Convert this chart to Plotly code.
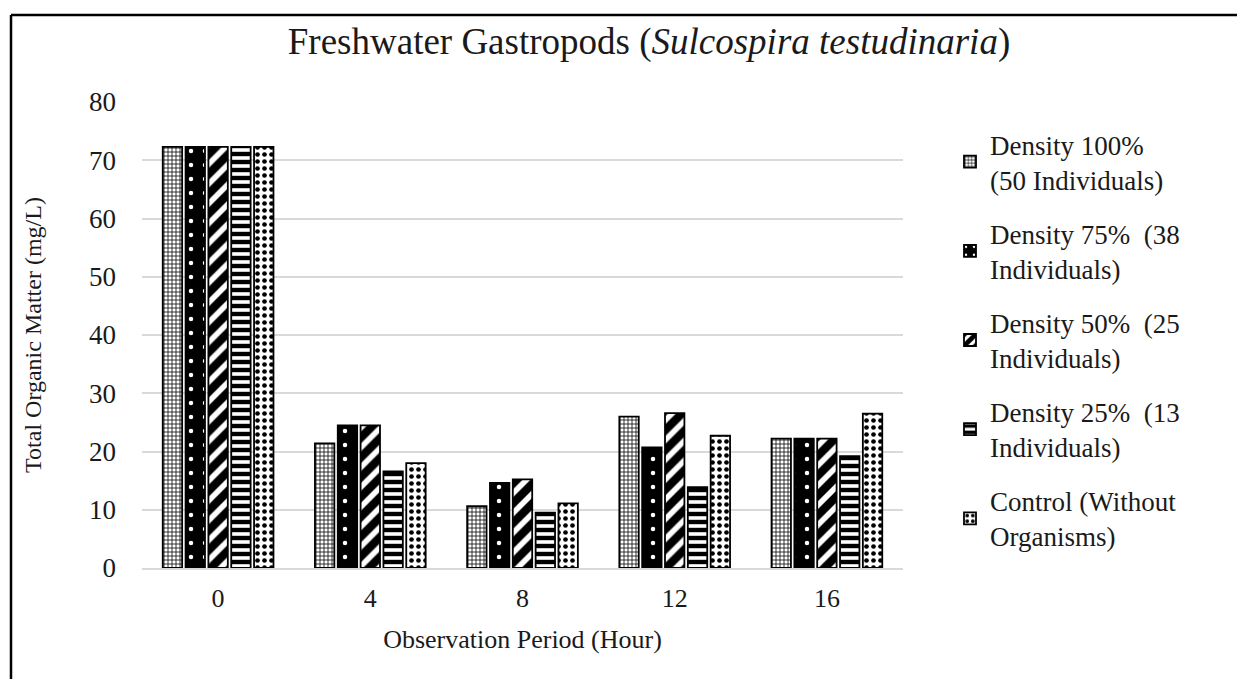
import plotly.graph_objects as go

hours = ["0", "4", "8", "12", "16"]
series_names = [
    "Density 100%<br>(50 Individuals)",
    "Density 75%  (38<br>Individuals)",
    "Density 50%  (25<br>Individuals)",
    "Density 25%  (13<br>Individuals)",
    "Control (Without<br>Organisms)",
]
density_100 = [72.3, 21.4, 10.6, 26.0, 22.2]
density_75 = [72.3, 24.5, 14.6, 20.7, 22.2]
density_50 = [72.3, 24.5, 15.2, 26.6, 22.2]
density_25 = [72.3, 16.6, 9.5, 13.9, 19.2]
control = [72.3, 18.0, 11.1, 22.7, 26.5]
y_ticks = [0, 10, 20, 30, 40, 50, 60, 70, 80]

values = [density_100, density_75, density_50, density_25, control]
patterns = [
    dict(shape="+", fgcolor="black", bgcolor="white", size=4, solidity=0.35, fgopacity=1),
    dict(shape=".", fgcolor="white", bgcolor="black", size=14, solidity=0.08, fgopacity=1),
    dict(shape="/", fgcolor="black", bgcolor="white", size=14, solidity=0.6, fgopacity=1),
    dict(shape="-", fgcolor="black", bgcolor="white", size=8, solidity=0.55, fgopacity=1),
    dict(shape=".", fgcolor="black", bgcolor="white", size=7, solidity=0.35, fgopacity=1),
]

FONT = "Liberation Serif, Times New Roman, serif"
INK = "#1a1a1a"
fig = go.Figure()
for i, (name, vals, pat) in enumerate(zip(series_names, values, patterns)):
    fig.add_trace(go.Bar(
        x=hours, y=vals, name=name, legendgroup=f"g{i}",
        marker=dict(color="white", pattern=pat, line=dict(color="black", width=1.8)),
    ))

# page body has an 8px margin, so figure coords = page coords - 8
L, R, T, B = 134, 350, 94, 119
W, H = 1245, 679
pw, ph = W - L - R, H - T - B

fig.update_layout(
    width=W, height=H,
    margin=dict(l=L, r=R, t=T, b=B),
    paper_bgcolor="white", plot_bgcolor="white",
    barmode="group", bargap=0.25, bargroupgap=0.15,
    font=dict(family=FONT, color=INK, size=26),
    title=dict(
        text="Freshwater Gastropods (<i>Sulcospira testudinaria</i>)",
        x=641 / W, xanchor="center", y=1 - 33 / H, yanchor="middle",
        font=dict(family=FONT, size=37, color=INK),
    ),
    xaxis=dict(
        showline=True, linecolor="#d9d9d9", linewidth=2, ticks="",
        tickfont=dict(family=FONT, size=26), ticklabelstandoff=6,
        title=dict(text="Observation Period (Hour)", font=dict(family=FONT, size=26), standoff=18),
    ),
    yaxis=dict(
        range=[0, 80], tickvals=y_ticks, showgrid=True, gridcolor="#d9d9d9", gridwidth=2,
        zeroline=False, showline=False, ticks="", tickfont=dict(family=FONT, size=27),
        ticklabelstandoff=25,
        title=dict(text="Total Organic Matter (mg/L)", font=dict(family=FONT, size=24), standoff=40),
    ),
    legend=dict(
        x=(942 - L) / pw, xanchor="left", y=1 + (T - 112) / ph, yanchor="top",
        font=dict(family=FONT, size=27, color=INK), tracegroupgap=16,
        itemwidth=30, bgcolor="rgba(0,0,0,0)",
    ),
    shapes=[
        dict(type="line", xref="paper", yref="paper",
             x0=-(L - 3) / pw, x1=1 + (R + 20) / pw,
             y0=1 + (T - 7) / ph, y1=1 + (T - 7) / ph,
             line=dict(color="black", width=2.5)),
        dict(type="line", xref="paper", yref="paper",
             x0=-(L - 3) / pw, x1=-(L - 3) / pw,
             y0=1 + (T - 7) / ph, y1=-(B + 20) / ph,
             line=dict(color="black", width=2.5)),
    ],
)

fig.write_html("out.html")
